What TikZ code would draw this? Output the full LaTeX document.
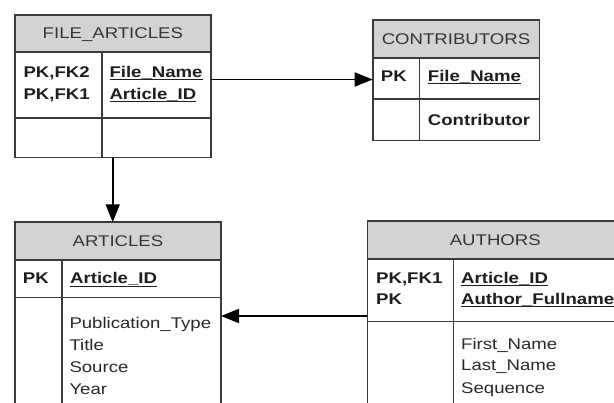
\documentclass[tikz,border=0pt]{standalone}
\usepackage{fontspec}
\setmainfont{Liberation Sans}[FakeStretch=1.2]
\usetikzlibrary{arrows.meta}
\definecolor{hdrfill}{HTML}{D3D3D3}
\definecolor{edge}{HTML}{3A3A3A}
\definecolor{ink}{HTML}{1E1E1E}
\newcommand\ukey[1]{\setbox0\hbox{#1}\rlap{\rule[-2.8pt]{\wd0}{1.2pt}}\box0}
\begin{document}
\begin{tikzpicture}[x=1pt,y=-1pt,
  hdrbox/.style={draw=edge, fill=hdrfill, line width=1.6pt, rectangle, inner sep=0pt, outer sep=0pt,
    anchor=north west, text height=10.5pt, text depth=0pt, text=ink!90,
    font=\fontsize{15.5}{18}\selectfont},
  bodybox/.style={draw=edge, fill=white, line width=1.6pt, rectangle, inner sep=0pt, outer sep=0pt, anchor=north west},
  divline/.style={draw=edge, line width=1.6pt},
  keytxt/.style={font=\fontsize{15.5}{18}\selectfont\bfseries, text=ink, anchor=base west, inner sep=0pt},
  attrtxt/.style={font=\fontsize{15.5}{18}\selectfont, text=ink!95, anchor=base west, inner sep=0pt},
  rel/.style={draw=black, line width=1.7pt, -{Triangle[length=18pt,width=14pt]}}]
\useasboundingbox (0,0) rectangle (614,403);
\clip (0,0) rectangle (614,403);
\fill[white] (0,0) rectangle (614,403);

% FILE_ARTICLES
\node[hdrbox, minimum width=195.7pt, minimum height=37pt] (faH) at (15,15) {FILE\_ARTICLES};
\node[bodybox, minimum width=195.7pt, minimum height=105.7pt] (fa) at (15,52) {};
\draw[divline] (101.7,52) -- (101.7,157.7);
\draw[divline] (15,118) -- (210.7,118);
\node[keytxt] (fa1) at (23.3,77.3) {PK,FK2};
\node[keytxt] (fa2) at (23.3,99.3) {PK,FK1};
\node[keytxt] (fa3) at (109.3,77.3) {\ukey{File\_Name}};
\node[keytxt] (fa4) at (109.3,99.3) {\ukey{Article\_ID}};

% CONTRIBUTORS
\node[hdrbox, minimum width=166.6pt, minimum height=38.3pt] (coH) at (372.7,20) {CONTRIBUTORS};
\node[bodybox, minimum width=166.6pt, minimum height=82.4pt] (co) at (372.7,58.3) {};
\draw[divline] (419.3,58.3) -- (419.3,140.7);
\draw[divline] (372.7,99) -- (539.3,99);
\node[keytxt] (co1) at (380.7,81.7) {PK};
\node[keytxt] (co2) at (427.7,81.7) {\ukey{File\_Name}};
\node[keytxt] (co3) at (427.7,126) {Contributor};

% ARTICLES
\node[hdrbox, minimum width=206pt, minimum height=37.7pt] (arH) at (15,222.3) {ARTICLES};
\node[bodybox, minimum width=206pt, minimum height=200pt] (ar) at (15,260) {};
\draw[divline] (61.7,260) -- (61.7,460);
\draw[divline] (15,297.7) -- (221,297.7);
\node[keytxt] (ar1) at (22.7,284) {PK};
\node[keytxt] (ar2) at (70,284) {\ukey{Article\_ID}};
\node[attrtxt] (ar3) at (69.3,329) {Publication\_Type};
\node[attrtxt] (ar4) at (69.3,350.7) {Title};
\node[attrtxt] (ar5) at (69.3,372.6) {Source};
\node[attrtxt] (ar6) at (69.3,394.4) {Year};

% AUTHORS
\node[hdrbox, minimum width=256pt, minimum height=38.3pt] (auH) at (367.3,221) {AUTHORS};
\node[bodybox, minimum width=256pt, minimum height=200pt] (au) at (367.3,259.3) {};
\draw[divline] (453.3,259.3) -- (453.3,460);
\draw[divline] (367.3,321.7) -- (623.3,321.7);
\node[keytxt] (au1) at (376,283.3) {PK,FK1};
\node[keytxt] (au2) at (376,304.3) {PK};
\node[keytxt] (au3) at (461,283.3) {\ukey{Article\_ID}};
\node[keytxt] (au4) at (461,304.3) {\ukey{Author\_Fullname}};
\node[attrtxt] (au5) at (461,349.3) {First\_Name};
\node[attrtxt] (au6) at (461,370.9) {Last\_Name};
\node[attrtxt] (au7) at (461,393.3) {Sequence};

% connectors
\coordinate (r1) at (0,79.5);
\coordinate (r2) at (112.7,0);
\coordinate (r3) at (0,316);
\draw[rel] (fa.east |- r1) -- (co.west |- r1);
\draw[rel] (fa.south -| r2) -- (arH.north -| r2);
\draw[rel] (au.west |- r3) -- (ar.east |- r3);
\end{tikzpicture}
\end{document}
